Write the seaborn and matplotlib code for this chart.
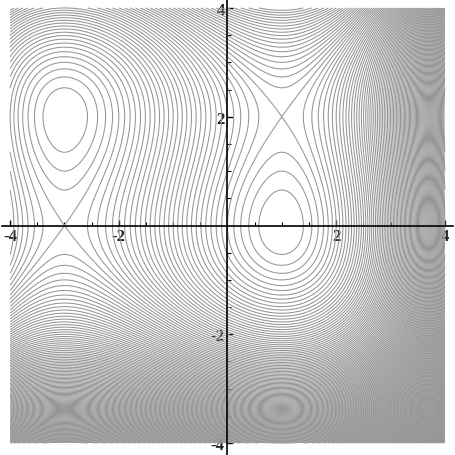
import numpy as np
import matplotlib
matplotlib.use("Agg")
import matplotlib.pyplot as plt
import seaborn as sns

# f(x, y) = x^3 + 3x^2 - 9x - y^3 + 3y^2  (polynomial coefficients, highest power first)
x_coeffs = [1, 3, -9, 0]
y_coeffs = [-1, 3, 0, 0]

# plotted square and contour levels
x_range = [-4, 4]
y_range = [-4, 4]
level_min, level_max, level_step = -21, 189, 1

# axis ticks
major_ticks = [-4, -2, 2, 4]
tick_labels = ["-4", "-2", "2", "4"]
minor_ticks = [-3.5, -3, -2.5, -1.5, -1, -0.5, 0.5, 1, 1.5, 2.5, 3, 3.5]

sns.set_theme(style="white")
plt.rcParams['font.family'] = ['Liberation Serif', 'DejaVu Serif']
plt.rcParams['axes.unicode_minus'] = False

xs = np.linspace(x_range[0], x_range[1], 600)
ys = np.linspace(y_range[0], y_range[1], 600)
X, Y = np.meshgrid(xs, ys)
Z = np.polyval(x_coeffs, X) + np.polyval(y_coeffs, Y)
levels = np.arange(level_min, level_max, level_step)

fig = plt.figure(figsize=(4.56, 4.56), dpi=100)
ax = fig.add_axes([2 / 456, 0, 451 / 456, 1])
ax.contour(X, Y, Z, levels=levels, colors="#959595", linewidths=0.75, linestyles="solid")

ax.set_xlim(-4.15, 4.15)
ax.set_ylim(-4.22, 4.165)

# Mathematica-like axes crossing at the origin
for side in ["top", "right"]:
    ax.spines[side].set_visible(False)
ax.spines["left"].set_position(("data", 0))
ax.spines["bottom"].set_position(("data", 0))
for side in ["left", "bottom"]:
    ax.spines[side].set_color("black")
    ax.spines[side].set_linewidth(1.2)

ax.set_xticks(major_ticks)
ax.set_xticklabels(tick_labels, fontweight="bold")
ax.set_yticks(major_ticks)
ax.set_yticklabels(tick_labels, fontweight="bold")
ax.set_xticks(minor_ticks, minor=True)
ax.set_yticks(minor_ticks, minor=True)
ax.tick_params(which="major", direction="in", length=4, width=1, color="black",
               labelsize=12, pad=2, labelcolor="#222222")
ax.tick_params(which="minor", direction="in", length=3, width=0.8, color="black")
ax.tick_params(axis="both", which="both", bottom=True, left=True)
ax.grid(False)

fig.savefig("out.png", dpi=100, facecolor="white")
